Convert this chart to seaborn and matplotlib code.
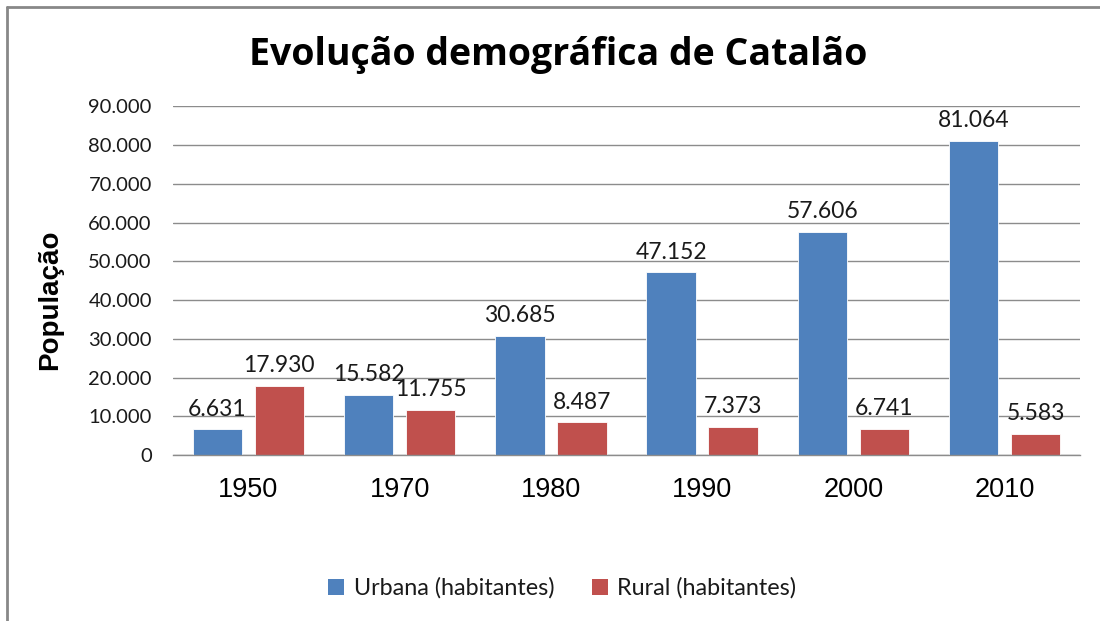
import matplotlib
matplotlib.use("Agg")
import matplotlib.pyplot as plt
import seaborn as sns
import pandas as pd
from matplotlib.lines import Line2D
from matplotlib.patches import Patch
from matplotlib.ticker import FuncFormatter

anos = ["1950", "1970", "1980", "1990", "2000", "2010"]
urbana = [6631, 15582, 30685, 47152, 57606, 81064]
rural = [17930, 11755, 8487, 7373, 6741, 5583]
series = ["Urbana (habitantes)", "Rural (habitantes)"]
cores = ["#4F81BD", "#C0504D"]
titulo = "Evolução demográfica de Catalão"
ylabel = "População"

df = pd.DataFrame({
    "Ano": anos * 2,
    "Pop": urbana + rural,
    "Serie": [series[0]] * len(anos) + [series[1]] * len(anos),
})

sns.set_theme(style="white")
plt.rcParams["font.family"] = ["Lato", "DejaVu Sans"]
plt.rcParams["text.color"] = "black"

fig = plt.figure(figsize=(11, 6.21), dpi=100)
ax = fig.add_axes([0.157, 0.267, 0.825, 0.562])

sns.barplot(data=df, x="Ano", y="Pop", hue="Serie", palette=cores,
            width=0.82, gap=0.2, ax=ax, legend=False,
            edgecolor="white", linewidth=0.6, saturation=1)

def fmt(v):
    return f"{int(round(v)):,}".replace(",", ".")

for cont in ax.containers:
    for bar in cont:
        h = bar.get_height()
        ax.annotate(fmt(h), (bar.get_x() + bar.get_width() / 2, h),
                    xytext=(0, 7), textcoords="offset points",
                    ha="center", va="bottom", fontsize=16.5,
                    color="#1a1a1a", family="Lato")

ax.set_ylim(0, 90000)
ax.set_yticks(range(0, 90001, 10000))
ax.yaxis.set_major_formatter(FuncFormatter(lambda v, p: fmt(v)))
ax.grid(axis="y", color="#8c8c8c", linewidth=1)
ax.set_axisbelow(True)
for s in ["top", "right", "left"]:
    ax.spines[s].set_visible(False)
ax.spines["bottom"].set_color("#8c8c8c")
ax.spines["bottom"].set_linewidth(1)
ax.tick_params(axis="y", labelsize=14.5, labelcolor="#1a1a1a", length=0, pad=15)
ax.tick_params(axis="x", labelsize=19.5, labelcolor="black", length=0, pad=16)
for lbl in ax.get_xticklabels():
    lbl.set_family("Liberation Sans")
ax.set_xlabel("")
ax.set_ylabel("")

fig.text(0.046, 0.517, ylabel, rotation=90, ha="center", va="center",
         fontsize=20, fontweight="bold", family="Liberation Sans", color="black")
fig.text(0.507, 0.912, titulo, ha="center", va="center",
         fontsize=27, fontweight="bold", family="Open Sans", color="black")

handles = [Patch(facecolor=c, edgecolor="none") for c in cores]
fig.legend(handles, series, loc="center", bbox_to_anchor=(0.511, 0.053),
           ncol=2, frameon=False, fontsize=16.8, handlelength=0.7,
           handleheight=0.7, columnspacing=1.6, handletextpad=0.4,
           labelcolor="#1a1a1a")

fig.add_artist(Line2D([7 / 1100, 1.0], [1 - 7 / 621, 1 - 7 / 621],
                      color="#888888", linewidth=2, transform=fig.transFigure))
fig.add_artist(Line2D([7 / 1100, 7 / 1100], [0, 1 - 7 / 621],
                      color="#888888", linewidth=2, transform=fig.transFigure))

fig.savefig("out.png", dpi=100, facecolor="white")
